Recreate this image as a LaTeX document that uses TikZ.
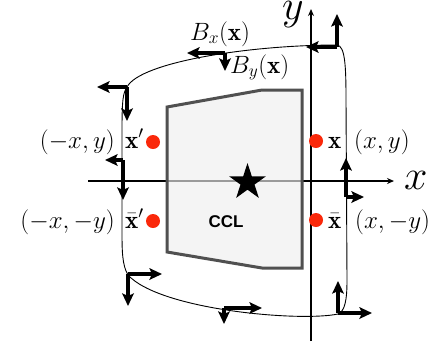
\documentclass[tikz,border=0pt]{standalone}
\usepackage{fix-cm}
\usepackage{fontspec}
\newfontfamily\arialfont{Liberation Sans}
\usetikzlibrary{arrows.meta,shapes.geometric}
\definecolor{dotred}{RGB}{250,40,10}
\definecolor{cclfill}{RGB}{238,238,238}
\definecolor{ccledge}{RGB}{80,80,80}
\begin{document}
\begin{tikzpicture}[x=1pt,y=-1pt,
  vec/.style={line width=3.1pt,-{Stealth[length=12.5pt,width=11.5pt,inset=2.5pt]}},
  axis/.style={line width=1.2pt,-{Stealth[length=7pt,width=6pt]}},
  bound/.style={line width=0.9pt},
  dot/.style={circle,fill=dotred,inner sep=0pt,minimum size=14pt},
  lab/.style={font=\fontsize{25}{30}\selectfont,inner sep=0pt},
  axlab/.style={font=\fontsize{42}{48}\selectfont,inner sep=0pt}]
\useasboundingbox (0,0) rectangle (435,349);
% axes
\coordinate (xs) at (88,181); \coordinate (xe) at (394,181);
\coordinate (ys) at (311,341); \coordinate (ye) at (311,9);
\draw[axis] (xs) -- (xe);
\draw[axis] (ys) -- (ye);
\node[axlab,anchor=base west] (xl) at (404,189) {$x$};
\node[axlab,anchor=base west] (yl) at (282,19) {$y$};
% CCL region
\filldraw[fill=cclfill,fill opacity=0.65,draw=ccledge,line width=3pt]
  (167,107) -- (262,90) -- (302,90) -- (302,268) -- (262,268) -- (167,252) -- cycle;
\node[star,star points=5,star point ratio=2.618,fill=black,inner sep=0pt,minimum size=38.6pt] (st) at (247.5,182.3) {};
\node[font=\arialfont\bfseries\fontsize{17}{20}\selectfont,inner sep=0pt] (ccl) at (226,221.5) {CCL};
% boundary curve
\draw[bound] (337,45) .. controls (345,46) and (346,65) .. (346,100)
  -- (347,280) .. controls (347,300) and (345,311) .. (338,314)
  .. controls (300,322) and (160,310) .. (128,275)
  .. controls (122,265) and (122,250) .. (122,230)
  -- (122,130) .. controls (122,100) and (123,93) .. (127,87)
  .. controls (140,62) and (250,45) .. cycle;
% frames
\coordinate (f1) at (337,47);
\coordinate (f2) at (225,53);
\coordinate (f3) at (127,87);
\coordinate (f4) at (123,160);
\coordinate (f5) at (128,274);
\coordinate (f6) at (224,308);
\coordinate (f7) at (338,313);
\coordinate (f8) at (346,197);
\draw[vec] (f1) -- ++(0,-33);
\draw[vec] (f1) -- ++(-31,0);
\draw[vec] (f2) -- ++(-38,0);
\draw[vec] (f2) -- ++(0,18);
\draw[vec] (f3) -- ++(-30,0);
\draw[vec] (f3) -- ++(0,34);
\draw[vec] (f4) -- ++(-18,0);
\draw[vec] (f4) -- ++(0,40);
\draw[vec] (f5) -- ++(34,0);
\draw[vec] (f5) -- ++(0,32);
\draw[vec] (f6) -- ++(38,0);
\draw[vec] (f6) -- ++(0,16);
\draw[vec] (f7) -- ++(0,-32);
\draw[vec] (f7) -- ++(34,0);
\draw[vec] (f8) -- ++(0,-39);
\draw[vec] (f8) -- ++(18,0);
\node[lab,anchor=base west] (bx) at (190,40) {$B_x(\mathbf{x})$};
\node[lab,anchor=base west] (by) at (230,73) {$B_y(\mathbf{x})$};
% points
\node[dot] (p) at (316,141) {};
\node[dot] (pb) at (316,220) {};
\node[dot] (q) at (153,142) {};
\node[dot] (qb) at (153,221) {};
\node[lab,anchor=base west] (pl) at (328,148) {$\mathbf{x}$};
\node[lab,anchor=base west] (pc) at (354,148) {$(x,y)$};
\node[lab,anchor=base west] (pbl) at (328,228) {$\bar{\mathbf{x}}$};
\node[lab,anchor=base west] (pbc) at (355,228) {$(x,-y)$};
\node[lab,anchor=base west] (ql) at (125,148) {$\mathbf{x}'$};
\node[lab,anchor=base east] (qc) at (115,148) {$(-x,y)$};
\node[lab,anchor=base west] (qbl) at (125,228) {$\bar{\mathbf{x}}'$};
\node[lab,anchor=base east] (qbc) at (115,228) {$(-x,-y)$};
\end{tikzpicture}
\end{document}
